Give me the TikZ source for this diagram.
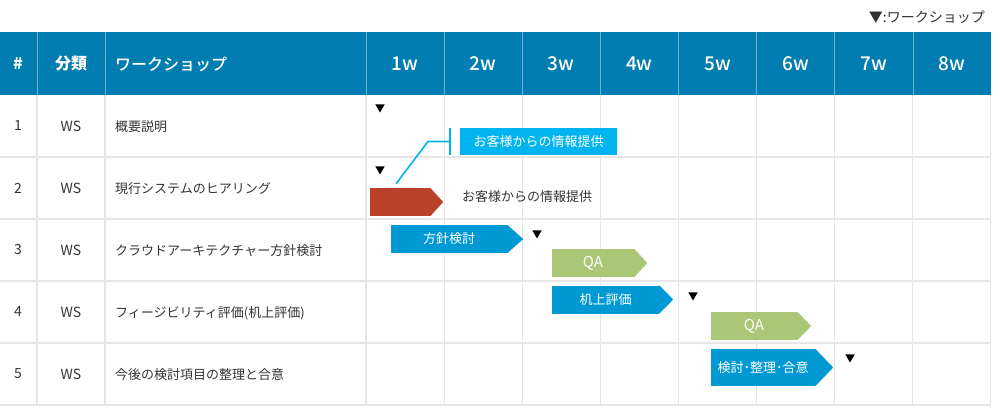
\documentclass[tikz,border=0pt]{standalone}
\usepackage{fontspec}
\setmainfont{Noto Sans CJK JP}
\newfontfamily\jpmedium{Noto Sans CJK JP}[UprightFont={* Medium}]
\usepackage{xcolor}
\definecolor{headblue}{RGB}{2, 125, 177}
\definecolor{headline}{RGB}{110, 175, 210}
\definecolor{gridgray}{RGB}{230, 230, 230}
\definecolor{textgray}{RGB}{51, 51, 51}
\definecolor{barblue}{RGB}{0, 153, 212}
\definecolor{barred}{RGB}{185, 67, 42}
\definecolor{bargreen}{RGB}{169, 199, 118}
\definecolor{calloutcyan}{RGB}{0, 181, 239}
\usepackage{tikz}
\usetikzlibrary{positioning, calc, shapes.geometric}

% arrow tip on the right of a bar: node, depth, colour
\newcommand{\bartip}[3]{\fill[#3] (#1.north east) -- ($(#1.east)+(#2,0)$) -- (#1.south east) -- cycle;}

\begin{document}
\begin{tikzpicture}[
		x=1pt, y=-1pt,
		font=\fontsize{13}{15}\selectfont,
		headtxt/.style={text=white, inner sep=0pt, font=\fontsize{16}{18}\selectfont\bfseries},
		weektxt/.style={text=white, inner sep=0pt, font=\fontsize{19}{21}\selectfont\jpmedium},
		celltxt/.style={text=textgray, inner sep=0pt},
		bar/.style={rectangle, minimum height=28pt, inner sep=0pt, text=white},
		qatxt/.style={font=\fontsize{15}{17}\selectfont},
		wsmark/.style={regular polygon, regular polygon sides=3, shape border rotate=180,
			fill=black, minimum size=11pt, inner sep=0pt},
		grid/.style={draw=gridgray, line width=1.2pt},
		calloutline/.style={draw=calloutcyan, line width=1.6pt}
		]
		\useasboundingbox (0,0) rectangle (1000,407);

		% table
		\fill[headblue] (0,32) rectangle (991,95);
		\foreach \y in {157,219,281,343,405}
			\draw[grid] (0,\y) -- (991,\y);
		\foreach \x in {37,105}
			\draw[grid] (\x,95) -- (\x,405);
		\foreach \k in {0,...,8}
			\draw[grid] ({366+78.1*\k},95) -- ({366+78.1*\k},405);
		\foreach \x in {37,105}
			\draw[headline] (\x,32) -- (\x,95);
		\foreach \k in {0,...,7}
			\draw[headline] ({366+78.1*\k},32) -- ({366+78.1*\k},95);

		% header
		\node[headtxt] (hnum) at (18,64) {\#};
		\node[headtxt] (hcat) at (71,64) {分類};
		\node[headtxt, anchor=west, font=\fontsize{16}{18}\selectfont\jpmedium] (hws) at (115,64) {ワークショップ};
		\foreach \k in {1,...,8}
			\node[weektxt] (week\k) at ({366+78.1*(\k-0.5)},64) {\k w};

		% rows
		\foreach \t [count=\i] in {概要説明, 現行システムのヒアリング,
			クラウドアーキテクチャー方針検討, フィージビリティ評価(机上評価),
			今後の検討項目の整理と合意} {
			\node[celltxt, font=\fontsize{14}{16}\selectfont] (num\i) at (18,{95+62*\i-31}) {\i};
			\node[celltxt, font=\fontsize{14}{16}\selectfont] (cat\i) at (71,{95+62*\i-31}) {WS};
			\node[celltxt, anchor=west] (ws\i) at (115,{95+62*\i-30}) {\t};
		}

		% workshop marks
		\node[wsmark] (m1) at (380,107) {};
		\node[wsmark] (m2) at (380,169) {};
		\node[wsmark] (m3) at (537,233) {};
		\node[wsmark] (m4) at (693,295) {};
		\node[wsmark] (m5) at (850,357) {};

		% bars
		\node[bar, fill=barred, minimum width=60pt] (hear) at (400,202) {};
		\bartip{hear}{13}{barred}
		\node[celltxt, anchor=west] (heartxt) at (462,197) {お客様からの情報提供};

		\node[bar, fill=barblue, minimum width=116pt] (policy) at (449,239) {方針検討};
		\bartip{policy}{16}{barblue}
		\node[bar, qatxt, fill=bargreen, minimum width=82pt] (qa1) at (593,263) {QA};
		\bartip{qa1}{13}{bargreen}
		\node[bar, fill=barblue, minimum width=107pt] (desk) at (605.5,299.5) {机上評価};
		\bartip{desk}{14}{barblue}
		\node[bar, qatxt, fill=bargreen, minimum width=86pt] (qa2) at (754,326) {QA};
		\bartip{qa2}{14}{bargreen}
		\node[bar, fill=barblue, minimum width=104pt, minimum height=37pt] (agree) at (763,367.5)
			{検討･整理･合意};
		\bartip{agree}{18}{barblue}

		% callout
		\node[bar, fill=calloutcyan, minimum width=157pt, minimum height=27pt] (info) at (538.5,141.5)
			{お客様からの情報提供};
		\coordinate (tick) at (450,141.5);
		\coordinate (bend) at (428,141.5);
		\draw[calloutline] (450,128) -- (450,155);
		\draw[calloutline] (tick) -- (bend) -- ($(hear.north)+(-4,-4)$);

		% legend
		\node[celltxt, anchor=east, font=\fontsize{14}{16}\selectfont] (legend) at (985,17) {▼:ワークショップ};
	\end{tikzpicture}
\end{document}
